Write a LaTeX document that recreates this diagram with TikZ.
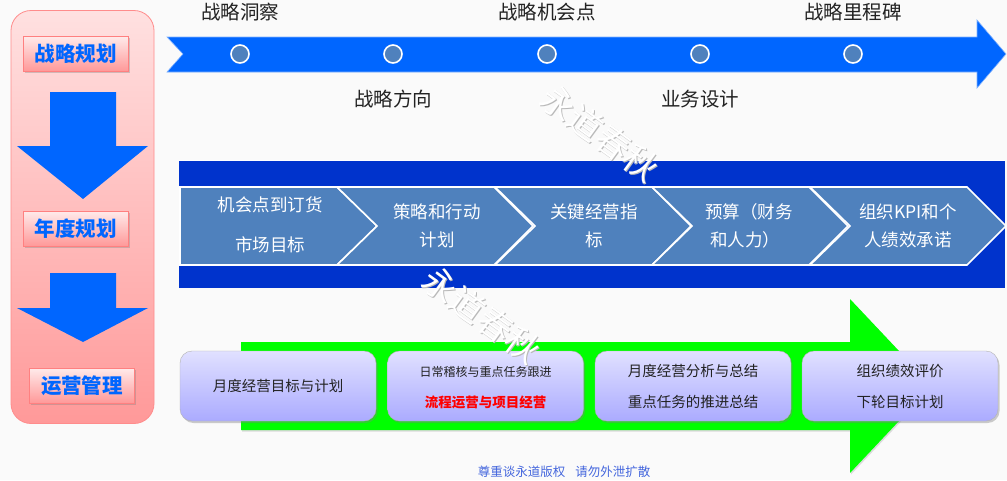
\documentclass[tikz,border=0pt]{standalone}
\usepackage{fontspec}
\setmainfont{Noto Sans CJK SC}
\usetikzlibrary{shadows,calc}
\definecolor{bgc}{HTML}{FAFAFA}
\definecolor{arrblue}{HTML}{0066FF}
\definecolor{bandblue}{HTML}{0033CC}
\definecolor{chevblue}{HTML}{4F81BD}
\definecolor{brightgreen}{HTML}{00FF00}
\definecolor{footblue}{HTML}{4466DD}
\definecolor{txtgray}{HTML}{222222}
\newcommand{\fsz}[1]{\fontsize{#1}{#1}\selectfont}
\tikzset{
  panel/.style={draw=red!45!white, top color=red!12!white, bottom color=red!40!white,
    rounded corners=20pt, minimum width=143pt, minimum height=413pt, line width=0.8pt},
  lab/.style={draw=red!50!white, top color=red!8!white, bottom color=red!40!white,
    minimum width=105pt, minimum height=35pt, inner sep=0pt, text=arrblue, font=\fsz{20.5}\bfseries,
    drop shadow={opacity=0.35, shadow xshift=1.5pt, shadow yshift=-1.5pt}},
  dot/.style={circle, minimum size=18pt, inner sep=0pt, fill=chevblue, draw=white, line width=1.6pt},
  toplab/.style={font=\fsz{19.5}, text=txtgray},
  chev/.style={fill=chevblue, draw=white, line width=1.6pt},
  chevtxt/.style={text=white, font=\fsz{17.5}},
  opbox/.style={rounded corners=12pt, minimum width=196pt, minimum height=70pt,
    top color=blue!12!white, bottom color=blue!33!white, draw=gray!60,
    drop shadow={opacity=0.4, shadow xshift=1.5pt, shadow yshift=-2pt}},
  boxtxt/.style={font=\fsz{14.5}, text=txtgray},
  wm/.style={rotate=-36, font=\fsz{34}}
}
\begin{document}
\begin{tikzpicture}[x=1pt,y=-1pt]
\fill[bgc] (0,0) rectangle (1007,480);
\useasboundingbox (0,0) rectangle (1007,480);

% left panel
\node[panel] (panel) at (82.5,217) {};
\fill[arrblue] (50,92) -- (116,92) -- (116,146) -- (148,146) -- (83,199) -- (17,146) -- (50,146) -- cycle;
\fill[arrblue] (50,273) -- (116,273) -- (116,308) -- (148,308) -- (83,342) -- (17,308) -- (50,308) -- cycle;
\node[lab] (l1) at (75.5,53.5) {战略规划};
\node[lab] (l2) at (75.5,228.5) {年度规划};
\node[lab] (l3) at (82,385.5) {运营管理};

% top timeline arrow
\filldraw[fill=arrblue, draw=arrblue!50!white, line width=0.6pt]
  (167,37) -- (977,37) -- (977,20) -- (1006,54) -- (977,88) -- (977,72) -- (167,72) -- (183,54) -- cycle;
\foreach \x [count=\i] in {240,393,547,700,853} {
  \node[dot] (c\i) at (\x,54) {};
}
\node[toplab] (t1) at (240,12) {战略洞察};
\node[toplab] (t3) at (547,12) {战略机会点};
\node[toplab] (t5) at (853,12) {战略里程碑};
\node[toplab] (t2) at (393,99) {战略方向};
\node[toplab] (t4) at (700,99) {业务设计};

% middle band
\fill[bandblue] (179,160) rectangle (1005,288);
\draw[white, line width=1pt] (179,160) -- (1005,160);
\draw[chev] (180,187) -- (337,187) -- (377,226) -- (337,265) -- (180,265) -- cycle;
\foreach \x in {337,495,652,810} {
  \draw[chev] (\x,187) -- ({\x+157},187) -- ({\x+196},226) -- ({\x+157},265) -- (\x,265) -- ({\x+40},226) -- cycle;
}
\node[chevtxt] (m1a) at (270,205) {机会点到订货};
\node[chevtxt] (m1b) at (270,245) {市场目标};
\node[chevtxt] (m2a) at (437,212) {策略和行动};
\node[chevtxt] (m2b) at (437,240) {计划};
\node[chevtxt] (m3a) at (594,212) {关键经营指};
\node[chevtxt] (m3b) at (594,240) {标};
\node[chevtxt] (m4a) at (749,212) {预算（财务};
\node[chevtxt] (m4b) at (745,240) {和人力）};
\node[chevtxt] (m5a) at (908,212) {组织KPI和个};
\node[chevtxt] (m5b) at (908,240) {人绩效承诺};

% green arrow
\fill[brightgreen, drop shadow={opacity=0.25, shadow xshift=1pt, shadow yshift=-1.5pt}]
  (241,342) -- (850,342) -- (850,299) -- (932,386) -- (850,473) -- (850,430) -- (241,430) -- cycle;

% operation boxes
\node[opbox] (b1) at (278,386) {};
\node[opbox] (b2) at (485.5,386) {};
\node[opbox] (b3) at (693,386) {};
\node[opbox] (b4) at (900,386) {};
\node[boxtxt] (b1t) at (b1.center) {月度经营目标与计划};
\node[boxtxt, font=\fsz{12}] (b2a) at ($(b2.center)+(0,-14)$) {日常稽核与重点任务跟进};
\node[boxtxt, font=\fsz{13.5}\bfseries, text=red] (b2b) at ($(b2.center)+(0,16)$) {流程运营与项目经营};
\node[boxtxt] (b3a) at ($(b3.center)+(0,-15)$) {月度经营分析与总结};
\node[boxtxt] (b3b) at ($(b3.center)+(0,16)$) {重点任务的推进总结};
\node[boxtxt] (b4a) at ($(b4.center)+(0,-15)$) {组织绩效评价};
\node[boxtxt] (b4b) at ($(b4.center)+(0,16)$) {下轮目标计划};

% footer
\node[font=\fsz{12.5}, text=footblue] (foot) at (564,472) {尊重谈永道版权\hspace{0.8em}请勿外泄扩散};

% watermarks
\node[wm, text=gray!55] (w1s) at (601,134) {永道春秋};
\node[wm, text=white] (w1) at (600,133) {永道春秋};
\node[wm, text=gray!55] (w2s) at (483,316) {永道春秋};
\node[wm, text=white] (w2) at (482,315) {永道春秋};
\end{tikzpicture}
\end{document}
